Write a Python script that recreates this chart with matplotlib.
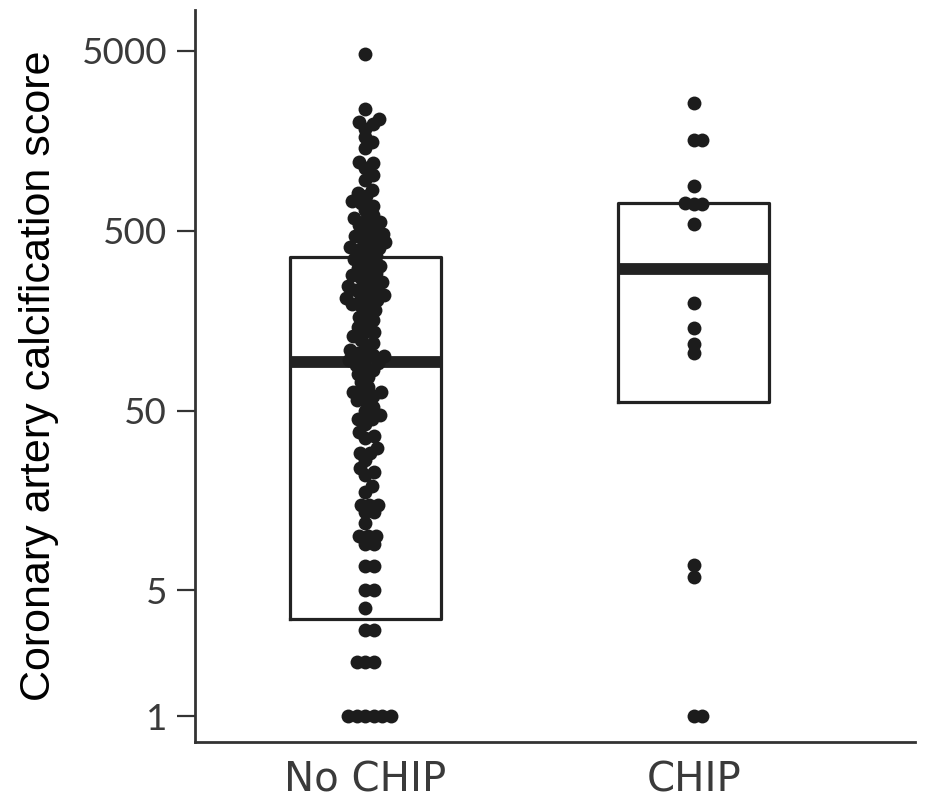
import numpy as np
import matplotlib
matplotlib.use("Agg")
import matplotlib.pyplot as plt

# %%
groups = ["No CHIP", "CHIP"]

no_chip_scores = [
    4800,
    2380, 2100, 2000, 1950, 1850,
    1650, 1550, 1440,
    1210, 1190, 1120, 1020, 960,
    840, 810, 780, 730, 713, 690,
    650, 610, 590, 575, 560, 540, 520, 500, 480,
    470, 460, 445, 430, 420, 407, 400, 390, 380,
    360, 350, 345, 330, 320, 310, 300, 290, 284, 277,
    270, 259, 250, 245, 240, 234, 228, 220, 214, 210,
    206, 200, 195, 190, 180, 174, 165, 160, 153, 145,
    137, 137, 130, 123, 119, 112, 108, 105, 102, 100,
    98, 95, 92, 90, 87, 84, 80, 77, 72, 68,
    63, 63, 63, 60, 57, 57, 52, 50, 47, 45,
    45, 42, 38, 36, 35, 31, 29, 29, 26.5, 24,
    22.8, 22, 19, 17.6, 15, 15, 15, 13.6, 13.6, 11.8,
    10, 10, 10, 9, 9, 6.8, 6.8, 5, 5, 4,
    3, 3, 2, 2, 2, 1, 1, 1, 1, 1, 1,
]
chip_scores = [2566, 1600, 1600, 887, 710, 705, 705, 545,
               198, 144, 117, 104, 6.9, 5.9, 1, 1]

box_q1 = [3.46, 55.5]
box_median = [92.6, 308]
box_q3 = [359, 717]

ytick_vals = [1, 5, 50, 500, 5000]
ytick_labels = ["1", "5", "50", "500", "5000"]

# %%
fig = plt.figure(figsize=(9.25, 8.06), dpi=100)
ax = fig.add_axes([0.2108, 0.0794, 0.7784, 0.9082])
ax.set_yscale("log")
ax.set_ylim(0.717, 8440)
ax.set_xlim(-0.519, 1.673)

ink = "#222222"

stats = [dict(med=m, q1=a, q3=b, whislo=a, whishi=b, fliers=[], label=g)
         for g, a, m, b in zip(groups, box_q1, box_median, box_q3)]
ax.bxp(stats, positions=[0, 1], widths=0.46, showcaps=False, showfliers=False,
       boxprops=dict(color=ink, linewidth=2.3),
       whiskerprops=dict(linewidth=0),
       medianprops=dict(color=ink, linewidth=8.5, solid_capstyle="butt"),
       zorder=2)


def swarm_offsets(vals, center, dmin=8.5):
    # simple beeswarm in pixel space, returns x offsets in data units
    pts = ax.transData.transform(np.column_stack([np.full(len(vals), center), vals]))
    ys = pts[:, 1]
    px_per_unit = ax.transData.transform((1, 1))[0] - ax.transData.transform((0, 1))[0]
    order = np.argsort(ys)
    placed = []
    offs = np.zeros(len(vals))
    for i in order:
        y = ys[i]
        near = [(px, py) for px, py in placed if abs(py - y) < dmin]
        found = 0.0
        for k in range(0, 400):
            cands = [0.0] if k == 0 else [k * 0.5, -k * 0.5]
            ok_c = None
            for c in cands:
                if all((c - px) ** 2 + (y - py) ** 2 >= dmin ** 2 for px, py in near):
                    ok_c = c
                    break
            if ok_c is not None:
                found = ok_c
                break
        placed.append((found, y))
        offs[i] = found / px_per_unit
    return offs


for pos, vals in zip([0, 1], [no_chip_scores, chip_scores]):
    vals = np.asarray(vals, dtype=float)
    xs = pos + swarm_offsets(vals, pos)
    ax.scatter(xs, vals, s=100, color="#1c1c1c", linewidths=0, zorder=3)

ax.set_yticks(ytick_vals)
ax.set_yticklabels(ytick_labels)
ax.yaxis.set_minor_locator(matplotlib.ticker.NullLocator())
ax.set_xticks([0, 1])
ax.set_xticklabels(groups)

for lab in ax.get_yticklabels():
    lab.set_fontfamily(["Lato", "DejaVu Sans"])
    lab.set_fontsize(26.5)
    lab.set_color("#3a3a3a")
for lab in ax.get_xticklabels():
    lab.set_fontfamily(["DejaVu Sans"])
    lab.set_fontsize(29)
    lab.set_color("#3a3a3a")

ax.tick_params(axis="y", length=13, width=1.6, color="#333333", pad=7)
ax.tick_params(axis="x", length=0, pad=13)

for side in ["top", "right"]:
    ax.spines[side].set_visible(False)
for side in ["left", "bottom"]:
    ax.spines[side].set_linewidth(2.0)
    ax.spines[side].set_color("#333333")

ax.set_ylabel("Coronary artery calcification score",
              family=["Liberation Sans Narrow", "Liberation Sans", "DejaVu Sans"],
              fontsize=31, color="black", labelpad=16)

fig.savefig("out.png", dpi=100)
